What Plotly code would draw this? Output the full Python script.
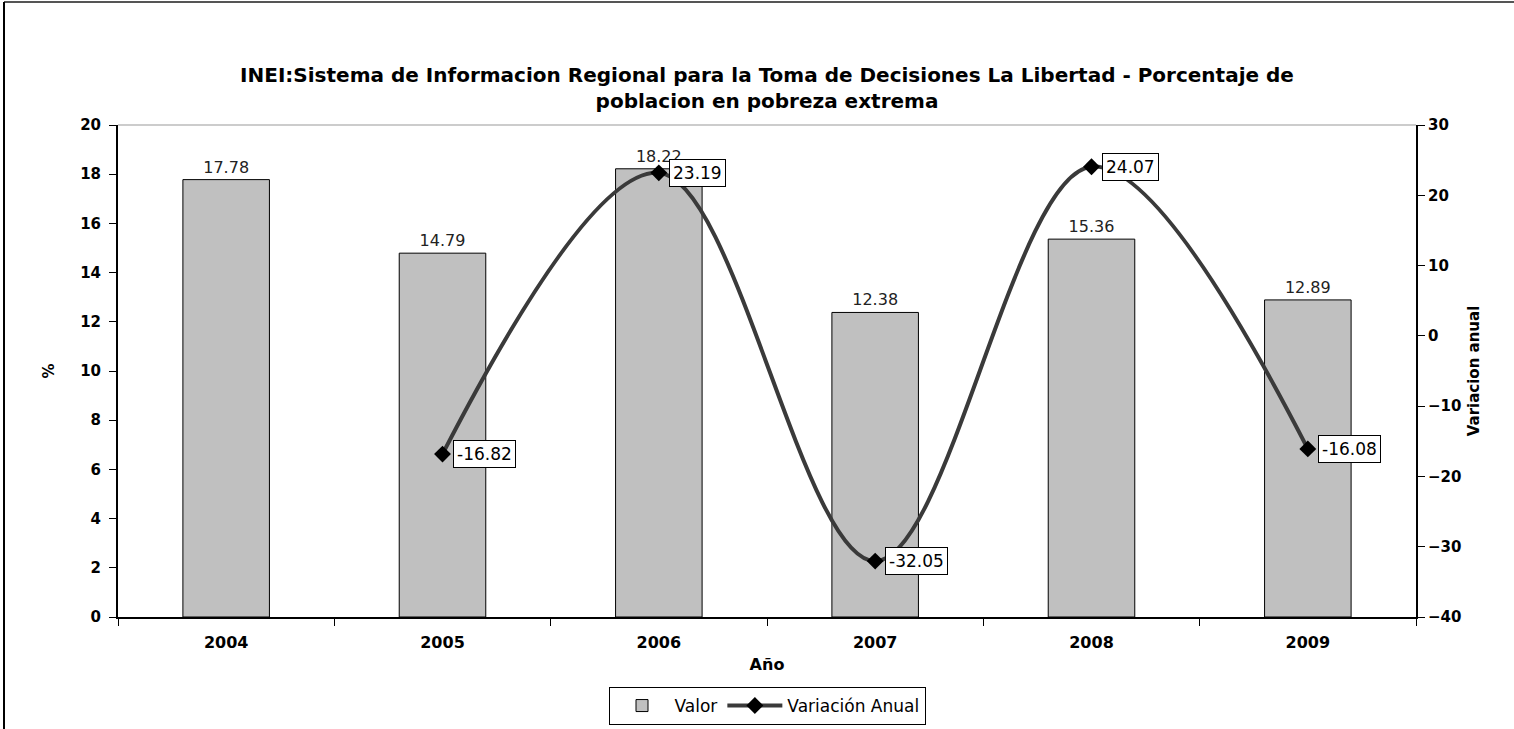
import plotly.graph_objects as go

years = ["2004", "2005", "2006", "2007", "2008", "2009"]
valor = [17.78, 14.79, 18.22, 12.38, 15.36, 12.89]
variacion = [None, -16.82, 23.19, -32.05, 24.07, -16.08]

W, H = 1514, 729
L, R, T, B = 118, 98, 125, 112
pw, ph = W - L - R, H - T - B


def px_x(x):
    return (x - L) / pw


def px_y(y):
    return (H - B - y) / ph


bold = "DejaVu Sans, Verdana, sans-serif"
plain = "DejaVu Sans, Verdana, sans-serif"

fig = go.Figure()

fig.add_trace(go.Bar(
    x=years, y=valor, name="Valor",
    marker=dict(color="#c0c0c0", line=dict(color="#000000", width=1)),
    width=0.4,
    text=[f"{v:.2f}" for v in valor], textposition="outside",
    textfont=dict(family=plain, size=16, color="#222222"),
    cliponaxis=False,
))

fig.add_trace(go.Scatter(
    x=years, y=variacion, name="Variación Anual", yaxis="y2",
    mode="lines+markers",
    line=dict(color="#3a3a3a", width=4, shape="spline", smoothing=1.0),
    marker=dict(symbol="diamond", size=13, color="#000000"),
    connectgaps=False,
))

# point labels (category index used so annotations don't stretch the axis)
for i, v in enumerate(variacion):
    if v is None:
        continue
    fig.add_annotation(
        x=i, y=v, xref="x", yref="y2", text=f"{v:.2f}",
        showarrow=False, xanchor="left", yanchor="middle", xshift=10,
        bgcolor="white", bordercolor="black", borderwidth=1, borderpad=3,
        font=dict(family=plain, size=17, color="#000000"),
    )

# outer chart frame and plot-area top edge
fig.add_shape(type="line", xref="paper", yref="paper",
              x0=px_x(4), x1=px_x(W + 5), y0=px_y(2), y1=px_y(2),
              line=dict(color="#555555", width=2))
fig.add_shape(type="line", xref="paper", yref="paper",
              x0=px_x(4), x1=px_x(4), y0=px_y(2), y1=px_y(H + 5),
              line=dict(color="#000000", width=2))
fig.add_shape(type="line", xref="paper", yref="paper",
              x0=0, x1=1, y0=1, y1=1, line=dict(color="#999999", width=1))

fig.update_layout(
    width=W, height=H,
    margin=dict(l=L, r=R, t=T, b=B, autoexpand=False),
    plot_bgcolor="white", paper_bgcolor="white",
    title=dict(
        text="<b>INEI:Sistema de Informacion Regional para la Toma de Decisiones La Libertad - Porcentaje de<br>poblacion en pobreza extrema</b>",
        x=(L + pw / 2) / W, xanchor="center",
        y=1 - 82 / H, yanchor="middle",
        font=dict(family=bold, size=20, color="#000000"),
    ),
    xaxis=dict(
        type="category", range=[-0.5, 5.5], tickson="boundaries",
        ticks="outside", ticklen=7, tickcolor="#000000",
        ticklabelstandoff=10,
        showline=True, linecolor="#000000", linewidth=2, showgrid=False,
        tickfont=dict(family=bold, size=16, color="#000000", weight="bold"),
        title=dict(text="<b>Año</b>", standoff=8,
                   font=dict(family=bold, size=16, color="#000000")),
    ),
    yaxis=dict(
        range=[0, 20], dtick=2, ticks="outside", ticklen=7, tickcolor="#000000",
        ticklabelstandoff=5,
        showline=True, linecolor="#000000", linewidth=2, showgrid=False,
        zeroline=False,
        tickfont=dict(family=bold, size=15, color="#000000", weight="bold"),
        title=dict(text="<b>%</b>", standoff=22,
                   font=dict(family=bold, size=15, color="#000000")),
    ),
    yaxis2=dict(
        overlaying="y", side="right", range=[-40, 30], dtick=10,
        ticks="outside", ticklen=7, tickcolor="#000000",
        showline=True, linecolor="#000000", linewidth=2, showgrid=False,
        zeroline=False,
        tickfont=dict(family=bold, size=15, color="#000000", weight="bold"),
        title=dict(text="<b>Variacion anual</b>", standoff=8,
                   font=dict(family=bold, size=15, color="#000000")),
    ),
    legend=dict(
        orientation="h", x=0.5, xanchor="center",
        y=px_y(706), yanchor="middle",
        bordercolor="#000000", borderwidth=1, bgcolor="white",
        font=dict(family=plain, size=17, color="#000000"),
        itemwidth=55, tracegroupgap=0,
    ),
    showlegend=True,
)

fig.write_html("out.html", config={"displayModeBar": False},
               post_script="document.body.style.margin='0';")
